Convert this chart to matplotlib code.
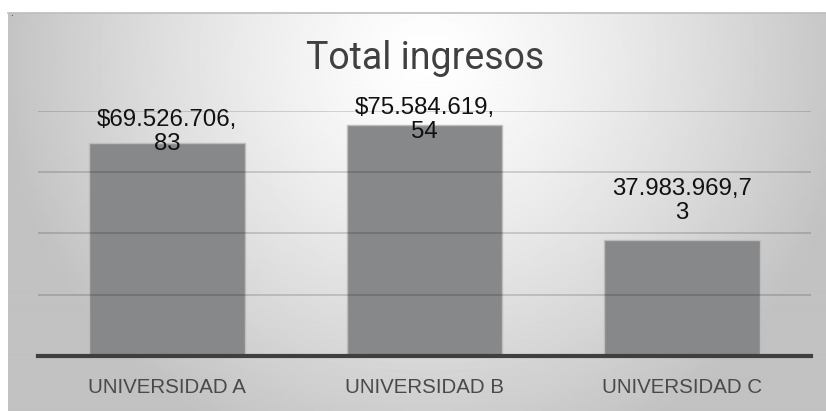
import numpy as np
import matplotlib
matplotlib.use("Agg")
import matplotlib.pyplot as plt

# data
universidades = ["UNIVERSIDAD A", "UNIVERSIDAD B", "UNIVERSIDAD C"]
ingresos = [69526706.83, 75584619.54, 37983969.73]
etiquetas = ["$69.526.706,\n83", "$75.584.619,\n54", "37.983.969,7\n3"]
titulo = "Total ingresos"

# label offsets above bar top (points)
label_offsets = [8, 3, 28]

W, H = 826, 411
fig = plt.figure(figsize=(W / 100, H / 100), dpi=100)
fig.patch.set_facecolor("white")

# gradient background of the chart frame
bg = fig.add_axes([8 / W, 0, 1 - 8 / W, 1 - 13 / H])
yy, xx = np.mgrid[0:398, 0:818]
cx, cy = 420, 45
d = np.sqrt(((xx - cx) / 430.0) ** 2 + ((yy - cy) / 420.0) ** 2)
shade = 1.0 - 0.24 * np.clip(d, 0, 1) ** 1.3
bg.imshow(shade, cmap="gray", vmin=0, vmax=1, aspect="auto",
          extent=[0, 1, 0, 1], interpolation="bilinear")
bg.set_axis_off()
fig.add_artist(plt.Line2D([8 / W, 1], [1 - 13 / H, 1 - 13 / H],
                          color="#bdbdbd", lw=1.2))
fig.text(10 / W, 1 - 16 / H, ".", fontsize=6, color="black")

ax = fig.add_axes([38 / W, 1 - 356 / H, (811 - 38) / W, (356 - 111) / H])
ax.patch.set_alpha(0)
x = np.arange(len(universidades))
bars = ax.bar(x, ingresos, width=0.605, color="#87888a",
              edgecolor="#bdbdbd", linewidth=1.0, zorder=1)
ax.set_ylim(0, 80e6)
ax.set_xlim(-0.5, len(universidades) - 0.5)
ax.set_yticks([20e6, 40e6, 60e6, 80e6])
ax.set_axisbelow(False)
ax.yaxis.grid(True, color="black", alpha=0.16, linewidth=1.3)
ax.tick_params(axis="y", left=False, labelleft=False)
ax.tick_params(axis="x", bottom=False, pad=12)
ax.set_xticks(x)
ax.set_xticklabels(universidades, fontsize=14.8, color="#4a4a4a",
                   family=["Liberation Sans", "DejaVu Sans"])
for s in ["top", "left", "right"]:
    ax.spines[s].set_visible(False)
ax.spines["bottom"].set_color("#3f3f3f")
ax.spines["bottom"].set_linewidth(3)
ax.spines["bottom"].set_zorder(3)

for xi, v, lab, off in zip(x, ingresos, etiquetas, label_offsets):
    ax.annotate(lab, (xi, v), xytext=(0, off), textcoords="offset points",
                ha="center", va="center", fontsize=17.3, color="#111111",
                linespacing=1.12, family=["Liberation Sans", "DejaVu Sans"],
                zorder=4, annotation_clip=False)

fig.text(425 / W, 1 - 58 / H, titulo, ha="center", va="center",
         fontsize=27, color="#404040",
         family=["Roboto", "Liberation Sans", "DejaVu Sans"])

fig.savefig("out.png", dpi=100)
